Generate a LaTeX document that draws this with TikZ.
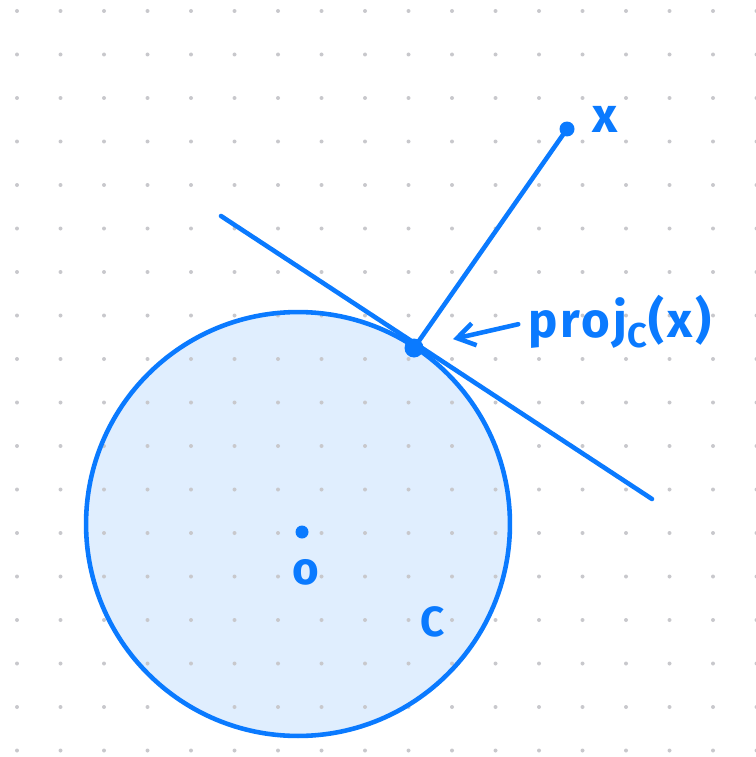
\documentclass[tikz,border=0pt]{standalone}
\usepackage{fontspec}
\setmainfont{Fira Sans}
\definecolor{ink}{RGB}{10,122,255}
\definecolor{paper}{RGB}{224,238,254}
\definecolor{griddot}{RGB}{200,200,204}
\usetikzlibrary{arrows.meta, positioning}

\begin{document}
\begin{tikzpicture}[x=0.02cm, y=-0.02cm,
    stroke/.style={draw=ink, line width=2.6pt, line cap=round},
    pt/.style={circle, fill=ink, inner sep=0pt, minimum size=0.3cm},
    lbl/.style={text=ink, inner sep=0pt}
]
    \useasboundingbox (0,0) rectangle (756,757);
    \coordinate (ctr) at (298,524);
    \fill[paper] (ctr) circle[radius=4.24cm];
    \foreach \i in {0,...,17}
        \foreach \j in {0,...,17}
            \fill[griddot] (17+43.5*\i, 11+43.5*\j) circle[radius=0.04cm];
    \draw[stroke] (ctr) circle[radius=4.24cm];

    \coordinate (tanA) at (221,216);
    \coordinate (tanB) at (652,499);
    \draw[stroke] (tanA) -- (tanB);

    \node[pt, minimum size=0.38cm] (proj) at (414,348) {};
    \node[pt, minimum size=0.3cm] (xpt) at (567,129) {};
    \draw[stroke] (proj.center) -- (xpt.center);

    \node[pt, minimum size=0.26cm] (cdot) at (302,532) {};
    \node[lbl, font=\fontsize{26}{28}\selectfont\bfseries] (olbl) at (306,572) {o};
    \node[lbl, font=\fontsize{24}{26}\selectfont\bfseries] (clbl) at (433,622) {C};
    \node[lbl, font=\fontsize{28}{30}\selectfont\bfseries] (xlbl) at (605,119) {x};
    \node[lbl, anchor=west, font=\fontsize{28}{30}\selectfont\bfseries\addfontfeature{LetterSpace=6}]
        (projlbl) at (528,322) {proj\textsubscript{C}(x)};

    \draw[stroke, -{Straight Barb[length=3.5mm, width=4.5mm]}, shorten <=0.2cm, shorten >=0.8cm]
        (projlbl.west) -- (proj.center);
\end{tikzpicture}
\end{document}
